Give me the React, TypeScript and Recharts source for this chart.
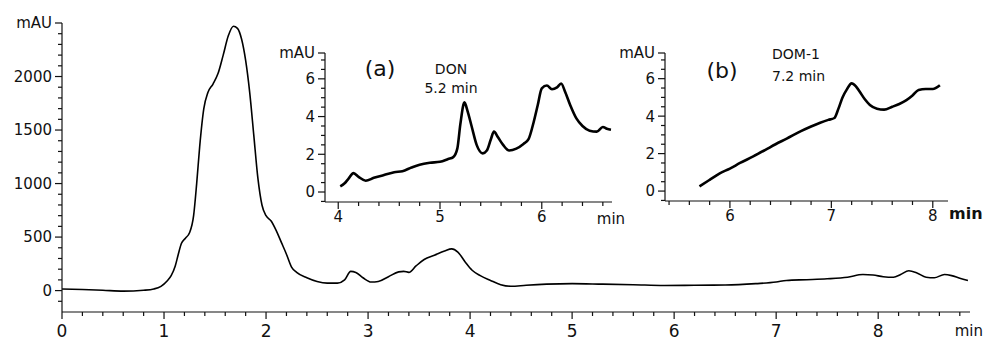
import React from 'react';
import { LineChart, Line, XAxis, YAxis } from 'recharts';

const FONT = '"DejaVu Sans", Arial, sans-serif';
const INK = '#111';

// main chromatogram (min, mAU)
const mainTime = [
  0.0, 0.2, 0.4, 0.6, 0.8, 0.9, 0.97, 1.03, 1.07, 1.11, 1.14, 1.17, 1.21, 1.25, 1.29, 1.32, 1.35, 1.39,
  1.43, 1.48, 1.53, 1.58, 1.63, 1.68, 1.72, 1.76, 1.8, 1.84, 1.88, 1.92, 1.96, 2.0, 2.05, 2.1, 2.15,
  2.2, 2.25, 2.3, 2.4, 2.5, 2.6, 2.7, 2.77, 2.83, 2.88, 2.95, 3.03, 3.1, 3.2, 3.3, 3.35, 3.4, 3.47,
  3.55, 3.65, 3.75, 3.82, 3.88, 3.95, 4.02, 4.1, 4.2, 4.3, 4.4, 4.55, 4.75, 5.0, 5.3, 5.6, 5.9, 6.2,
  6.5, 6.8, 7.0, 7.1, 7.3, 7.5, 7.7, 7.85, 7.95, 8.05, 8.15, 8.22, 8.3, 8.38, 8.47, 8.55, 8.65, 8.72,
  8.8, 8.88,
];
const mainSignal = [
  15, 10, 3, -5, 3, 15, 40, 90, 140, 230, 340, 440, 490, 540, 700, 1000, 1350, 1700,
  1850, 1930, 2030, 2200, 2380, 2470, 2450, 2350, 2150, 1850, 1450, 1050, 800, 700, 650, 560, 450,
  340, 220, 170, 120, 85, 70, 70, 100, 180, 170, 120, 80, 85, 130, 175, 180, 170, 230,
  290, 330, 370, 390, 360, 270, 190, 140, 95, 55, 40, 50, 60, 65, 60, 55, 48, 50,
  52, 65, 80, 95, 102, 110, 125, 150, 145, 130, 125, 150, 185, 165, 125, 120, 150, 140,
  115, 95,
];

// inset (a): DON
const donTime = [
  4.02, 4.06, 4.1, 4.15, 4.2, 4.27, 4.35, 4.45, 4.55, 4.63, 4.72, 4.8, 4.9, 5.0, 5.08, 5.13, 5.17,
  5.2, 5.24, 5.27, 5.31, 5.36, 5.42, 5.46, 5.5, 5.53, 5.57, 5.62, 5.68, 5.75, 5.82, 5.87, 5.92, 5.96,
  6.0, 6.05, 6.1, 6.15, 6.19, 6.23, 6.28, 6.34, 6.4, 6.47, 6.54, 6.6, 6.64, 6.68,
];
const donSignal = [
  0.3, 0.45, 0.7, 1.0, 0.8, 0.6, 0.75, 0.9, 1.05, 1.1, 1.3, 1.45, 1.55, 1.6, 1.75, 1.85, 2.3,
  3.6, 4.75, 4.3, 3.5, 2.5, 2.05, 2.2, 2.8, 3.2, 2.9, 2.5, 2.2, 2.3, 2.55, 2.8, 3.7, 4.6,
  5.5, 5.65, 5.45, 5.55, 5.75, 5.3, 4.6, 3.9, 3.5, 3.25, 3.2, 3.45, 3.35, 3.3,
];

// inset (b): DOM-1
const domTime = [
  5.7, 5.8, 5.9, 6.0, 6.1, 6.23, 6.35, 6.45, 6.56, 6.7, 6.8, 6.89, 6.97, 7.03, 7.07, 7.11,
  7.15, 7.2, 7.24, 7.28, 7.33, 7.38, 7.45, 7.52, 7.6, 7.67, 7.74, 7.8, 7.86, 7.93, 8.0, 8.07,
];
const domSignal = [
  0.25, 0.6, 0.95, 1.2, 1.5, 1.85, 2.2, 2.5, 2.8, 3.2, 3.45, 3.65, 3.8, 3.9, 4.4, 5.0,
  5.4, 5.75, 5.6, 5.3, 4.9, 4.6, 4.4, 4.35, 4.5, 4.65, 4.85, 5.1, 5.4, 5.45, 5.45, 5.65,
];

const mainXLabels = [0, 1, 2, 3, 4, 5, 6, 7, 8];
const mainYLabels = [0, 500, 1000, 1500, 2000];
const donXLabels = [4, 5, 6];
const domXLabels = [6, 7, 8];
const insetYLabels = [0, 2, 4, 6];

const MAIN_X = [0, 8.9];
const MAIN_Y = [-200, 2500];
const DON_X = [3.87, 6.69];
const DOM_X = [5.36, 8.15];
const INSET_Y = [-0.53, 7.37];

const rows = (t: number[], v: number[]) => t.map((time, i) => ({ time, mAU: v[i] }));

const steps = (from: number, to: number, step: number) => {
  const out: number[] = [];
  for (let v = from; v <= to + 1e-9; v += step) out.push(Math.round(v * 1000) / 1000);
  return out;
};

const isIn = (list: number[], v: number) => list.some((l) => Math.abs(l - v) < 1e-6);

// tick marks and labels drawn here; p.x / p.y sit on the axis line (tickSize 0, tickMargin 0)
const xTick = (labels: number[], fontSize: number, labelDy: number) => (p: any) => {
  const v = p.payload.value;
  const major = isIn(labels, v);
  const x = Number(p.x);
  const y = Number(p.y);
  return (
    <g>
      <rect x={x - 0.6} y={y} width={1.2} height={major ? 7 : 4} fill={INK} stroke="none" />
      {major && (
        <text x={x} y={y + labelDy} textAnchor="middle" fontSize={fontSize} fill={INK} fontFamily={FONT}>
          {v}
        </text>
      )}
    </g>
  );
};

const yTick = (labels: number[], top: number, fontSize: number) => (p: any) => {
  const v = p.payload.value;
  const isTop = Math.abs(v - top) < 1e-6;
  const major = isTop || isIn(labels, v);
  const x = Number(p.x);
  const y = Number(p.y);
  return (
    <g>
      <rect x={x - (major ? 7 : 4)} y={y - 0.6} width={major ? 7 : 4} height={1.2} fill={INK} stroke="none" />
      {major && (
        <text x={x - 10} y={y} dy="0.36em" textAnchor="end" fontSize={fontSize} fill={INK} fontFamily={FONT}>
          {isTop ? 'mAU' : v}
        </text>
      )}
    </g>
  );
};

const axisProps = {
  type: 'number' as const,
  allowDataOverflow: true,
  interval: 0 as const,
  tickSize: 0,
  tickMargin: 0,
  tickLine: false,
  axisLine: { stroke: INK, strokeWidth: 1.2 },
};

export default function App() {
  const mainYTicks = [...steps(-100, 2400, 100), MAIN_Y[1]];
  const insetYTicks = [...steps(-0.5, 7, 0.5), INSET_Y[1]];

  return (
    <div style={{ position: 'absolute', left: 0, top: 0, width: 987, height: 341, background: '#fff' }}>
      <div style={{ position: 'absolute', left: 0, top: 0 }}>
        <LineChart width={987} height={341} data={rows(mainTime, mainSignal)} margin={{ top: 23, right: 17, bottom: 0, left: 0 }}>
          <XAxis {...axisProps} dataKey="time" domain={MAIN_X} ticks={steps(0, 8.8, 0.2)} height={29} tick={xTick(mainXLabels, 17, 25)} />
          <YAxis {...axisProps} domain={MAIN_Y} ticks={mainYTicks} width={62} tick={yTick(mainYLabels, MAIN_Y[1], 15)} />
          <Line type="monotone" dataKey="mAU" stroke="#000" strokeWidth={1.6} dot={false} isAnimationActive={false} />
        </LineChart>
      </div>

      <div style={{ position: 'absolute', left: 268, top: 40 }}>
        <LineChart width={362} height={190} data={rows(donTime, donSignal)} margin={{ top: 13, right: 18, bottom: 0, left: 0 }}>
          <XAxis {...axisProps} dataKey="time" domain={DON_X} ticks={steps(4, 6.6, 0.2)} height={28} tick={xTick(donXLabels, 15, 20)} />
          <YAxis {...axisProps} domain={INSET_Y} ticks={insetYTicks} width={57} tick={yTick(insetYLabels, INSET_Y[1], 15)} />
          <Line type="monotone" dataKey="mAU" stroke="#000" strokeWidth={2.6} dot={false} isAnimationActive={false} />
        </LineChart>
      </div>

      <div style={{ position: 'absolute', left: 620, top: 40 }}>
        <LineChart width={350} height={190} data={rows(domTime, domSignal)} margin={{ top: 13, right: 22, bottom: 0, left: 0 }}>
          <XAxis {...axisProps} dataKey="time" domain={DOM_X} ticks={steps(5.4, 8.0, 0.2)} height={29} tick={xTick(domXLabels, 15, 20)} />
          <YAxis {...axisProps} domain={INSET_Y} ticks={insetYTicks} width={45} tick={yTick(insetYLabels, INSET_Y[1], 15)} />
          <Line type="monotone" dataKey="mAU" stroke="#000" strokeWidth={2.6} dot={false} isAnimationActive={false} />
        </LineChart>
      </div>

      <svg width={987} height={341} style={{ position: 'absolute', left: 0, top: 0, pointerEvents: 'none' }} fontFamily={FONT} fill={INK}>
        <text x={983} y={336} textAnchor="end" fontSize={15}>min</text>
        <text x={611} y={224} textAnchor="middle" fontSize={15}>min</text>
        <text x={949} y={219} fontSize={16} fontWeight={600}>min</text>
        <text x={380} y={76} textAnchor="middle" fontSize={22}>(a)</text>
        <text x={451} y={74} textAnchor="middle" fontSize={14}>DON</text>
        <text x={451} y={93} textAnchor="middle" fontSize={14}>5.2 min</text>
        <text x={722} y={78} textAnchor="middle" fontSize={22}>(b)</text>
        <text x={772} y={59} fontSize={14}>DOM-1</text>
        <text x={772} y={81} fontSize={14}>7.2 min</text>
      </svg>
    </div>
  );
}
